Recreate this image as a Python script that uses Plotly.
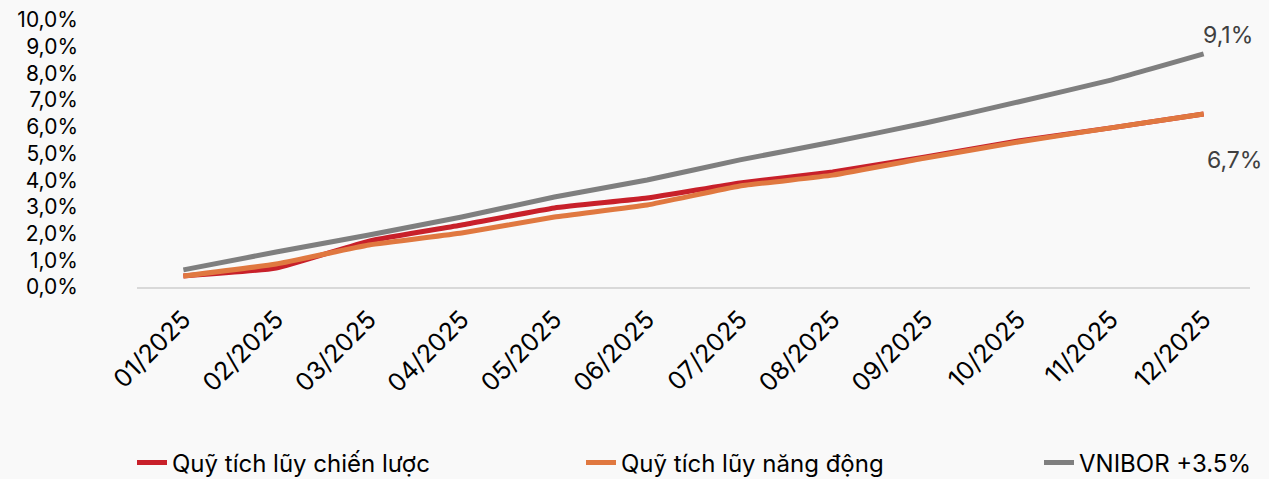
import plotly.graph_objects as go

months = ["01/2025", "02/2025", "03/2025", "04/2025", "05/2025", "06/2025",
          "07/2025", "08/2025", "09/2025", "10/2025", "11/2025", "12/2025"]
chien_luoc = [0.41, 0.71, 1.72, 2.32, 2.96, 3.33, 3.90, 4.31, 4.87, 5.47, 5.96, 6.48]
nang_dong = [0.41, 0.86, 1.57, 2.02, 2.62, 3.07, 3.78, 4.19, 4.83, 5.43, 5.96, 6.48]
vnibor = [0.64, 1.31, 1.95, 2.62, 3.37, 4.01, 4.76, 5.43, 6.14, 6.93, 7.75, 8.73]
y_ticks = [0, 1, 2, 3, 4, 5, 6, 7, 8, 9, 10]
y_tick_labels = ["0,0%", "1,0%", "2,0%", "3,0%", "4,0%", "5,0%", "6,0%", "7,0%", "8,0%", "9,0%", "10,0%"]
end_labels = ["9,1%", "6,7%"]

FONT = "Inter"
W, H = 1269, 479
fig = go.Figure()
fig.add_trace(go.Scatter(x=months, y=chien_luoc, mode="lines", name="Quỹ tích lũy chiến lược",
                         line=dict(color="#c8202a", width=5, shape="spline", smoothing=0.4),
                         legend="legend"))
fig.add_trace(go.Scatter(x=months, y=nang_dong, mode="lines", name="Quỹ tích lũy năng động",
                         line=dict(color="#e07840", width=5, shape="spline", smoothing=0.4),
                         legend="legend2"))
fig.add_trace(go.Scatter(x=months, y=vnibor, mode="lines", name="VNIBOR +3.5%",
                         line=dict(color="#7f7f7f", width=5, shape="spline", smoothing=0.4),
                         legend="legend3"))

fig.add_annotation(x=months[-1], y=vnibor[-1], text=end_labels[0], showarrow=False,
                   xanchor="left", yanchor="bottom", xshift=-3, yshift=3,
                   font=dict(family=FONT, size=23, color="#404040"))
fig.add_annotation(x=months[-1], y=nang_dong[-1], text=end_labels[1], showarrow=False,
                   xanchor="left", yanchor="top", xshift=1, yshift=-30,
                   font=dict(family=FONT, size=23, color="#404040"))

def leg(x_px):
    return dict(orientation="h", xref="container", yref="container",
                x=x_px / W, y=(H - 463) / H, xanchor="left", yanchor="middle",
                bgcolor="rgba(0,0,0,0)", font=dict(family=FONT, size=24, color="#000000"),
                itemwidth=30)

fig.update_layout(
    width=W, height=H, showlegend=True,
    margin=dict(l=137, r=19, t=20, b=192),
    paper_bgcolor="#f9f9f9", plot_bgcolor="#f9f9f9",
    font=dict(family=FONT, size=24, color="#000000"),
    legend=leg(132), legend2=leg(581), legend3=leg(1039),
    xaxis=dict(type="category", range=[-0.5, 11.5], tickangle=-45, showgrid=False,
               showline=True, linecolor="#d9d9d9", linewidth=2, ticks="",
               ticklabelstandoff=6, automargin=False,
               tickfont=dict(family=FONT, size=25, color="#000000")),
    yaxis=dict(range=[0, 10], tickvals=y_ticks, ticktext=y_tick_labels, showgrid=False,
               zeroline=False, showline=False, ticks="", ticklabelstandoff=58,
               automargin=False,
               tickfont=dict(family=FONT, size=21, color="#000000")),
)
fig.write_html("out.html", config={"displayModeBar": False},
               post_script="document.body.style.margin='0';")
